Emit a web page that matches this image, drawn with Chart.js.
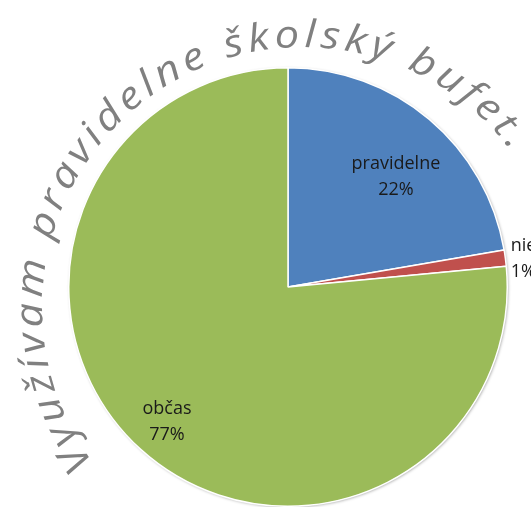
<!DOCTYPE html>
<html>
<head>
<meta charset="utf-8">
<script src="https://cdn.jsdelivr.net/npm/chart.js@4.4.1/dist/chart.umd.min.js"></script>
<style>
  html, body { margin: 0; padding: 0; background: #fff; }
  #wrap { width: 531px; height: 507px; position: relative; }
</style>
</head>
<body>
<div id="wrap"><canvas id="bufetChart"></canvas></div>
<script>
// data
const categories = ['pravidelne', 'nie', 'občas'];
const shares = [22.3, 1.2, 76.5];
const sliceColors = ['#4F81BD', '#C0504D', '#9BBB59'];
const titleText = 'Využívam pravidelne školský bufet.';

// soft grey edge under the pie
const pieShadow = {
    id: 'pieShadow',
    beforeDatasetsDraw(chart) {
        const arc = chart.getDatasetMeta(0).data[0];
        const ctx = chart.ctx;
        ctx.save();
        ctx.beginPath();
        ctx.arc(arc.x, arc.y, arc.outerRadius, 0, Math.PI * 2);
        ctx.fillStyle = '#fff';
        ctx.shadowColor = 'rgba(0,0,0,0.35)';
        ctx.shadowBlur = 3;
        ctx.shadowOffsetX = 1;
        ctx.shadowOffsetY = 1;
        ctx.fill();
        ctx.restore();
    }
};

// category + percent labels
const sliceLabels = {
    id: 'sliceLabels',
    afterDatasetsDraw(chart) {
        const ctx = chart.ctx;
        const meta = chart.getDatasetMeta(0);
        const total = shares.reduce((a, b) => a + b, 0);
        // excel-ish placement, nudged by eye
        const place = [
            { r: 0.70, dx: 9, dy: 7, align: 'center' },
            { r: 1.025, dx: 0, dy: 1, align: 'left' },
            { r: 0.82, dx: 0, dy: 2, align: 'center' }
        ];
        ctx.save();
        ctx.font = '18px "Open Sans"';
        ctx.fillStyle = '#1a1a1a';
        ctx.textBaseline = 'middle';
        meta.data.forEach((arc, i) => {
            const mid = (arc.startAngle + arc.endAngle) / 2;
            const rr = arc.outerRadius * place[i].r;
            const x = arc.x + Math.cos(mid) * rr + place[i].dx;
            const y = arc.y + Math.sin(mid) * rr + place[i].dy;
            ctx.textAlign = place[i].align;
            ctx.fillText(categories[i], x, y - 13);
            ctx.fillText(Math.round(shares[i] / total * 100) + '%', x, y + 13);
        });
        ctx.restore();
    }
};

// title bent round the pie, letter by letter
const arcTitle = {
    id: 'arcTitle',
    afterDraw(chart) {
        const ctx = chart.ctx;
        const arc = chart.getDatasetMeta(0).data[0];
        const cx = arc.x + 15, cy = arc.y + 21; // title circle sits a bit lower right
        const rad = arc.outerRadius * 1.19;
        const start = 143.5 * Math.PI / 180;
        const end = 322.8 * Math.PI / 180;
        const stretch = 1.15;
        ctx.save();
        ctx.font = 'italic 38px "Open Sans"';
        ctx.fillStyle = '#808080';
        ctx.textAlign = 'center';
        ctx.textBaseline = 'alphabetic';
        const chars = Array.from(titleText);
        const widths = chars.map(c => ctx.measureText(c).width * stretch);
        const total = widths.reduce((a, b) => a + b, 0);
        const gap = ((end - start) * rad - total) / (chars.length - 1);
        let s = 0;
        chars.forEach((c, i) => {
            const a = start + (s + widths[i] / 2) / rad;
            ctx.save();
            ctx.translate(cx + Math.cos(a) * rad, cy + Math.sin(a) * rad);
            ctx.rotate(a + Math.PI / 2);
            ctx.scale(stretch, 1);
            ctx.fillText(c, 0, 0);
            ctx.restore();
            s += widths[i] + gap;
        });
        ctx.restore();
    }
};

new Chart(document.getElementById('bufetChart'), {
    type: 'pie',
    data: {
        labels: categories,
        datasets: [{
            data: shares,
            backgroundColor: sliceColors,
            borderColor: '#fff',
            borderWidth: 1.5
        }]
    },
    options: {
        responsive: true,
        maintainAspectRatio: false,
        animation: false,
        layout: { padding: { top: 67, bottom: 0, left: 68, right: 23 } },
        plugins: {
            legend: { display: false },
            tooltip: { enabled: false }
        }
    },
    plugins: [pieShadow, sliceLabels, arcTitle]
});
</script>
</body>
</html>
